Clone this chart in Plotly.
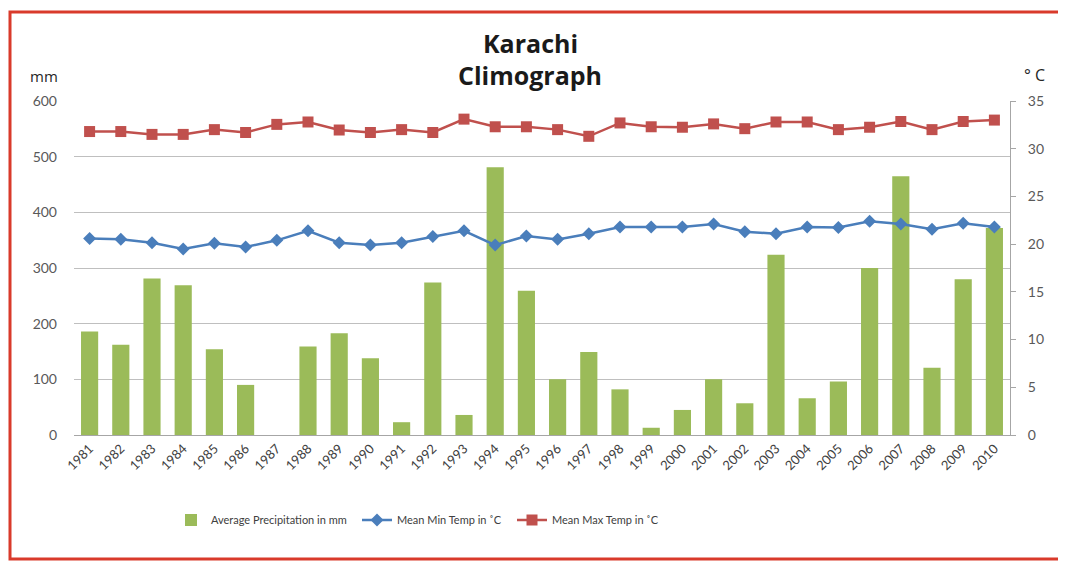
import plotly.graph_objects as go

years = [str(y) for y in range(1981, 2011)]
precip_mm = [186, 162, 281, 269, 154, 90, 0, 159, 183, 138, 23, 274, 36, 481, 259, 100,
             149, 82, 13, 45, 100, 57, 324, 66, 96, 300, 465, 121, 280, 372]
min_temp = [20.6, 20.5, 20.15, 19.5, 20.1, 19.7, 20.4, 21.4, 20.15, 19.9, 20.15, 20.8, 21.4, 19.9, 20.85,
            20.5, 21.1, 21.8, 21.8, 21.8, 22.1, 21.3, 21.1, 21.8, 21.75, 22.4, 22.1, 21.55, 22.2, 21.8]
max_temp = [31.8, 31.8, 31.5, 31.5, 32.0, 31.7, 32.55, 32.8, 31.96, 31.7, 32.0, 31.7, 33.1, 32.3, 32.3,
            32.0, 31.3, 32.7, 32.3, 32.25, 32.6, 32.1, 32.8, 32.8, 32.0, 32.25, 32.85, 32.0, 32.85, 33.0]

O = 8  # page body margin
W, H = 1066 - 2 * O, 570 - 2 * O
# plot area in reference (page) pixel coordinates
L, R, T, B = 74, 1010, 101, 435


def px(x):
    return (x - L) / (R - L)


def py(y):
    return (B - y) / (B - T)


FONT = "Lato, Open Sans, sans-serif"

fig = go.Figure()
fig.add_trace(go.Bar(x=years, y=precip_mm, name="Average Precipitation in mm",
                     marker=dict(color="#9bbb59", line=dict(width=0)), width=0.55,
                     legend="legend"))
fig.add_trace(go.Scatter(x=years, y=min_temp, name="Mean Min Temp in \u02daC", yaxis="y2",
                         mode="lines+markers",
                         line=dict(color="#4a7ebb", width=2.5),
                         marker=dict(symbol="diamond", size=10, color="#4a7ebb"),
                         legend="legend2"))
fig.add_trace(go.Scatter(x=years, y=max_temp, name="Mean Max Temp in \u02daC", yaxis="y2",
                         mode="lines+markers",
                         line=dict(color="#c0504d", width=2.5),
                         marker=dict(symbol="square", size=11, color="#c0504d"),
                         legend="legend3"))

tickfont = dict(family=FONT, size=14, color="#595959")
legfont = dict(family=FONT, size=11, color="#404040")


def leg(xref_px):
    return dict(orientation="h", x=px(xref_px), xanchor="left", y=py(520), yanchor="middle",
                font=legfont, bgcolor="rgba(0,0,0,0)")


fig.update_layout(
    width=W, height=H,
    margin=dict(l=L - O, r=W - (R - O), t=T - O, b=H - (B - O), pad=0),
    paper_bgcolor="white", plot_bgcolor="white",
    showlegend=True,
    xaxis=dict(type="category", tickangle=-45, tickfont=dict(family=FONT, size=13, color="#404040"),
               showline=True, linecolor="#a6a6a6", linewidth=1, showgrid=False, ticks="",
               range=[-0.5, 29.5]),
    yaxis=dict(range=[0, 600], dtick=100, showgrid=True, gridcolor="#bfbfbf", gridwidth=1,
               showline=False, zeroline=False, tickfont=tickfont, ticks="",
               ticklabelstandoff=16),
    yaxis2=dict(range=[0, 35], dtick=5, overlaying="y", side="right", showgrid=False,
                showline=True, linecolor="#a6a6a6", linewidth=1, ticks="outside", ticklen=5,
                tickcolor="#a6a6a6", zeroline=False, tickfont=tickfont, ticklabelstandoff=9),
    legend=leg(171),
    legend2=leg(357),
    legend3=leg(512),
    annotations=[
        dict(text="<b>Karachi</b>", x=px(530), y=py(43), xref="paper", yref="paper",
             showarrow=False, xanchor="center", yanchor="middle",
             font=dict(family="Open Sans, sans-serif", size=25, color="#1a1a1a")),
        dict(text="<b>Climograph</b>", x=px(530), y=py(75), xref="paper", yref="paper",
             showarrow=False, xanchor="center", yanchor="middle",
             font=dict(family="Open Sans, sans-serif", size=25, color="#1a1a1a")),
        dict(text="mm", x=px(44), y=py(76), xref="paper", yref="paper", showarrow=False,
             xanchor="center", yanchor="middle",
             font=dict(family="Open Sans, sans-serif", size=15, color="#262626")),
        dict(text="\u00b0 C", x=px(1034), y=py(75), xref="paper", yref="paper", showarrow=False,
             xanchor="center", yanchor="middle",
             font=dict(family="Open Sans, sans-serif", size=16, color="#262626")),
    ],
    shapes=[
        dict(type="rect", xref="paper", yref="paper", x0=px(10), x1=px(1090), y0=py(559), y1=py(12),
             line=dict(color="#d93a2b", width=3), fillcolor="rgba(0,0,0,0)", layer="below"),
    ],
)

fig.write_html("out.html")
